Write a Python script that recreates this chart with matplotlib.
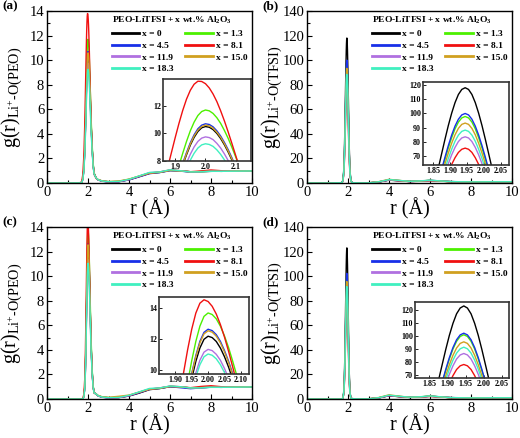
import matplotlib
matplotlib.use('Agg')
import matplotlib.pyplot as plt
from matplotlib.lines import Line2D
from matplotlib.ticker import MultipleLocator, FixedLocator, FormatStrFormatter

plt.rcParams['font.family'] = ['Liberation Serif', 'DejaVu Serif']
plt.rcParams['mathtext.fontset'] = 'custom'
plt.rcParams['mathtext.rm'] = 'Liberation Serif'
plt.rcParams['mathtext.it'] = 'Liberation Serif:italic'
plt.rcParams['mathtext.bf'] = 'Liberation Serif:bold'

# ---------------- data ----------------
labels = ['x = 0', 'x = 1.3', 'x = 4.5', 'x = 8.1', 'x = 11.9', 'x = 15.0', 'x = 18.3']
colors = ['#000000', '#4cf000', '#1830e8', '#f01010', '#b070e0', '#d0a020', '#40f0c0']

r_peo = [0, 1.0, 1.65, 1.7, 1.75, 1.8, 1.84, 1.87,
         1.9, 1.9125, 1.925, 1.9375, 1.95, 1.9625, 1.975, 1.9875, 2.0, 2.0125, 2.025,
         2.0375, 2.05, 2.0625, 2.075, 2.0875, 2.1, 2.1125, 2.125, 2.1375, 2.15,
         2.2, 2.25, 2.3, 2.4,
         2.5, 2.7, 3.0, 3.5, 4.0, 4.5, 5.0, 5.5, 6.0, 6.5, 7.0, 7.5, 8.0, 8.5, 9.0, 9.5, 10.0]

r_tfsi = [0, 1.0, 1.7, 1.745, 1.785, 1.805, 1.825, 1.845,
          1.855, 1.865, 1.875, 1.885, 1.895, 1.905, 1.915, 1.925, 1.935, 1.945,
          1.955, 1.965, 1.975, 1.985, 1.995, 2.005, 2.015, 2.025, 2.035,
          2.045, 2.065, 2.085, 2.105, 2.145, 2.2,
          2.3, 2.5, 3.0, 3.5, 4.0, 4.5, 5.0, 5.5, 6.0, 6.5, 7.0, 7.5, 8.0, 8.5, 9.0, 9.5, 10.0]

# (a) Li+-O(PEO)
a_x0 = [0, 0, .01, .07, .33, 1.14, 2.54, 4.12,
        6.04, 6.87, 7.69, 8.45, 9.15, 9.71, 10.14, 10.41, 10.5, 10.45, 10.28, 10.0, 9.63, 9.17, 8.64, 8.05, 7.42, 6.76, 6.10, 5.45, 4.81,
        2.91, 1.5, .76, .4,
        .25, .15, .10, .11, .26, .52, .78, .86, 1.02, 1.0, .92, .92, .95, .96, .97, .98, .98]
a_x13 = [0, 0, .01, .08, .36, 1.28, 2.83, 4.59,
         6.73, 7.65, 8.56, 9.42, 10.19, 10.82, 11.30, 11.59, 11.7, 11.64, 11.45, 11.14, 10.73, 10.21, 9.63, 8.97, 8.27, 7.53, 6.80, 6.07, 5.36,
         3.21, 1.63, .81, .4,
         .26, .16, .10, .13, .30, .56, .82, .88, 1.04, .98, .90, .93, .96, .95, .97, .97, .98]
a_x45 = [0, 0, .01, .07, .33, 1.17, 2.59, 4.19,
         6.15, 7.0, 7.83, 8.61, 9.32, 9.90, 10.34, 10.60, 10.7, 10.65, 10.48, 10.19, 9.81, 9.34, 8.81, 8.21, 7.56, 6.89, 6.22, 5.55, 4.90,
         2.96, 1.52, .77, .4,
         .24, .14, .09, .10, .25, .50, .76, .85, 1.0, .97, .88, .94, .97, .95, .96, .98, .97]
a_x81 = [0, 0, .03, .18, .74, 2.29, 4.66, 7.06,
         9.68, 10.72, 11.67, 12.49, 13.13, 13.57, 13.79, 13.77, 13.61, 13.30, 12.86, 12.31, 11.64, 10.90, 10.09, 9.24, 8.37, 7.50, 6.65, 5.83, 5.07,
         2.87, 1.4, .69, .37,
         .26, .16, .10, .12, .28, .55, .80, .90, 1.06, 1.0, .92, .98, 1.06, 1.0, .98, 1.0, 1.0]
a_x119 = [0, 0, .01, .07, .30, 1.06, 2.36, 3.82,
          5.61, 6.38, 7.14, 7.85, 8.49, 9.02, 9.42, 9.66, 9.75, 9.70, 9.55, 9.28, 8.94, 8.51, 8.02, 7.48, 6.89, 6.28, 5.66, 5.06, 4.47,
          2.73, 1.41, .73, .4,
          .25, .15, .10, .12, .28, .56, .84, .90, 1.05, .99, .90, .92, .96, .96, .98, .98, .99]
a_x150 = [0, 0, .01, .07, .33, 1.16, 2.57, 4.16,
          6.10, 6.93, 7.76, 8.53, 9.23, 9.81, 10.24, 10.50, 10.6, 10.55, 10.38, 10.09, 9.72, 9.25, 8.72, 8.13, 7.49, 6.83, 6.16, 5.50, 4.85,
          2.94, 1.51, .77, .4,
          .27, .17, .12, .16, .32, .56, .80, .87, 1.02, .98, .91, .93, .96, .95, .97, .98, .98]
a_x183 = [0, 0, .01, .06, .29, 1.01, 2.24, 3.63,
          5.32, 6.05, 6.77, 7.45, 8.06, 8.56, 8.94, 9.17, 9.25, 9.20, 9.06, 8.81, 8.48, 8.08, 7.61, 7.09, 6.54, 5.96, 5.37, 4.80, 4.24,
          2.60, 1.35, .71, .4,
          .26, .16, .11, .13, .30, .58, .86, .90, 1.08, 1.0, .90, .91, .95, .95, .96, .97, .98]

# (b) Li+-O(TFSI)
b_x0 = [0, 0, .24, 2.0, 8.6, 15.9, 27.1, 42.5,
        51.6, 61.4, 71.6, 81.8, 91.5, 100.2, 107.6, 113.3, 116.8, 118, 116.8, 113.3, 107.6, 100.2, 91.5, 81.8, 71.6, 61.4, 51.6,
        42.5, 27.1, 15.9, 8.6, 2.0, .3,
        .2, .1, .1, .8, 2.3, 1.8, 1.2, 1.5, 2.0, 1.6, 1.1, 1.0, .9, .9, 1.0, 1.0, 1.0]
b_x13 = [0, 0, .2, 1.7, 7.1, 13.2, 22.5, 35.2,
         42.8, 50.9, 59.4, 67.8, 75.9, 83.1, 89.3, 94, 96.9, 97.9, 96.9, 94, 89.3, 83.1, 75.9, 67.8, 59.4, 50.9, 42.8,
         35.2, 22.5, 13.2, 7.1, 1.7, .3,
         .2, .1, .1, .9, 2.6, 2.0, 1.3, 1.6, 2.1, 1.5, 1.1, 1.0, .9, .9, 1.0, 1.0, 1.0]
b_x45 = [0, 0, .2, 1.7, 7.3, 13.5, 23, 36,
         43.7, 52, 60.7, 69.3, 77.5, 84.9, 91.2, 96, 99, 100, 99, 96, 91.2, 84.9, 77.5, 69.3, 60.7, 52, 43.7,
         36, 23, 13.5, 7.3, 1.7, .3,
         .2, .1, .1, .8, 2.4, 1.9, 1.2, 1.5, 2.2, 1.7, 1.1, 1.0, .9, .9, 1.0, 1.0, 1.0]
b_x81 = [0, 0, .2, 1.3, 5.5, 10.2, 17.4, 27.3,
         33.1, 39.4, 46, 52.5, 58.7, 64.4, 69.1, 72.8, 75, 75.8, 75, 72.8, 69.1, 64.4, 58.7, 52.5, 46, 39.4, 33.1,
         27.3, 17.4, 10.2, 5.5, 1.3, .3,
         .2, .1, .1, .9, 2.5, 1.8, 1.2, 1.4, 1.9, 1.5, 1.1, 1.0, .9, 1.0, 1.0, 1.0, 1.0]
b_x119 = [0, 0, .2, 1.4, 6.1, 11.3, 19.3, 30.1,
          36.6, 43.5, 50.8, 58, 64.9, 71.1, 76.3, 80.4, 82.9, 83.7, 82.9, 80.4, 76.3, 71.1, 64.9, 58, 50.8, 43.5, 36.6,
          30.1, 19.3, 11.3, 6.1, 1.4, .3,
          .2, .1, .1, .9, 2.6, 2.0, 1.3, 1.5, 2.0, 1.6, 1.2, 1.0, .9, .9, 1.0, 1.0, 1.0]
b_x150 = [0, 0, .2, 1.6, 6.8, 12.6, 21.5, 33.6,
          40.8, 48.5, 56.6, 64.7, 72.3, 79.2, 85.1, 89.6, 92.4, 93.3, 92.4, 89.6, 85.1, 79.2, 72.3, 64.7, 56.6, 48.5, 40.8,
          33.6, 21.5, 12.6, 6.8, 1.6, .3,
          .2, .1, .1, 1.1, 3.0, 2.1, 1.3, 1.6, 2.2, 1.6, 1.1, 1.0, .9, .9, 1.0, 1.0, 1.0]
b_x183 = [0, 0, .2, 1.5, 6.5, 11.9, 20.3, 31.8,
          38.6, 46, 53.7, 61.3, 68.5, 75, 80.6, 84.9, 87.5, 88.4, 87.5, 84.9, 80.6, 75, 68.5, 61.3, 53.7, 46, 38.6,
          31.8, 20.3, 11.9, 6.5, 1.5, .3,
          .2, .1, .1, 1.0, 2.8, 2.1, 1.4, 1.7, 2.3, 1.7, 1.2, 1.0, .9, .9, 1.0, 1.0, 1.0]

# (c) Li+-O(PEO)
c_x0 = [0, 0, 0, 0, .02, .21, .89, 2.18,
        4.39, 5.59, 6.87, 8.19, 9.46, 10.57, 11.44, 12.0, 12.2, 12.11, 11.86, 11.44, 10.88, 10.21, 9.44, 8.61, 7.75, 6.87, 6.0, 5.17, 4.39,
        2.28, 1.01, .51, .4,
        .25, .15, .10, .12, .24, .48, .76, .85, 1.0, .98, .90, .93, .96, .96, .97, .98, .98]
c_x13 = [0, 0, 0, 0, .02, .23, 1.0, 2.45,
         4.93, 6.27, 7.71, 9.19, 10.62, 11.86, 12.85, 13.48, 13.7, 13.6, 13.32, 12.85, 12.22, 11.47, 10.6, 9.67, 8.7, 7.71, 6.74, 5.81, 4.93,
         2.52, 1.09, .53, .4,
         .26, .16, .11, .13, .28, .55, .80, .88, 1.03, .98, .90, .93, .96, .95, .97, .97, .98]
c_x45 = [0, 0, 0, 0, .02, .22, .92, 2.26,
         4.55, 5.79, 7.12, 8.49, 9.8, 10.95, 11.87, 12.45, 12.65, 12.56, 12.3, 11.87, 11.28, 10.59, 9.79, 8.93, 8.03, 7.12, 6.22, 5.36, 4.55,
         2.35, 1.03, .52, .4,
         .24, .14, .09, .11, .25, .50, .78, .86, 1.0, .92, .84, .90, .96, .95, .96, .98, .97]
c_x81 = [0, 0, 0, 0, .05, .41, 1.61, 3.6,
         6.72, 8.26, 9.83, 11.33, 12.65, 13.69, 14.33, 14.55, 14.44, 14.13, 13.63, 12.96, 12.15, 11.23, 10.23, 9.2, 8.15, 7.11, 6.12, 5.2, 4.34,
         2.15, .93, .47, .4,
         .26, .16, .10, .12, .27, .54, .80, .90, 1.04, 1.0, .92, 1.02, 1.08, 1.0, .98, 1.0, 1.0]
c_x119 = [0, 0, 0, 0, .02, .19, .83, 2.03,
          4.09, 5.2, 6.39, 7.62, 8.8, 9.83, 10.65, 11.17, 11.35, 11.27, 11.03, 10.65, 10.12, 9.5, 8.78, 8.01, 7.21, 6.39, 5.58, 4.81, 4.09,
          2.14, .96, .49, .4,
          .25, .15, .10, .12, .28, .56, .82, .90, 1.04, .99, .90, .92, .96, .96, .98, .98, .99]
c_x150 = [0, 0, 0, 0, .02, .21, .92, 2.25,
          4.52, 5.75, 7.07, 8.42, 9.73, 10.87, 11.77, 12.35, 12.55, 12.46, 12.2, 11.77, 11.19, 10.5, 9.71, 8.86, 7.97, 7.07, 6.17, 5.32, 4.52,
          2.33, 1.03, .51, .4,
          .28, .18, .14, .22, .32, .56, .80, .87, 1.02, .98, .91, .93, .96, .95, .97, .98, .98]
c_x183 = [0, 0, 0, 0, .02, .19, .81, 1.98,
          3.98, 5.06, 6.22, 7.41, 8.56, 9.57, 10.36, 10.87, 11.05, 10.97, 10.74, 10.36, 9.86, 9.25, 8.55, 7.8, 7.02, 6.22, 5.44, 4.69, 3.98,
          2.09, .94, .49, .4,
          .26, .16, .11, .13, .30, .58, .86, .90, 1.06, 1.0, .90, .91, .95, .95, .96, .97, .98]

# (d) Li+-O(TFSI)
d_x0 = [0, 0, 0, .7, 4.8, 10.3, 19.9, 34.7,
        44.2, 54.7, 66.2, 78, 89.7, 100.5, 109.7, 117, 121.4, 123, 121.4, 117, 109.7, 100.5, 89.7, 78, 66.2, 54.7, 44.2,
        34.7, 19.9, 10.3, 4.8, .7, .3,
        .2, .1, .1, .9, 2.6, 1.9, 1.3, 1.6, 2.2, 1.7, 1.1, 1.0, .9, .9, 1.0, 1.0, 1.0]
d_x13 = [0, 0, 0, .6, 3.9, 8.5, 16.4, 28.5,
         36.3, 44.9, 54.3, 64, 73.6, 82.5, 90.1, 96, 99.7, 101, 99.7, 96, 90.1, 82.5, 73.6, 64, 54.3, 44.9, 36.3,
         28.5, 16.4, 8.5, 3.9, .6, .3,
         .2, .1, .1, 1.0, 2.9, 2.1, 1.4, 1.7, 2.4, 1.7, 1.1, 1.0, .9, .9, 1.0, 1.0, 1.0]
d_x45 = [0, 0, 0, .6, 4.0, 8.6, 16.6, 28.8,
         36.7, 45.5, 55, 64.8, 74.5, 83.5, 91.2, 97.2, 100.9, 102.2, 100.9, 97.2, 91.2, 83.5, 74.5, 64.8, 55, 45.5, 36.7,
         28.8, 16.6, 8.6, 4.0, .6, .3,
         .2, .1, .1, .9, 2.7, 2.0, 1.3, 1.6, 2.3, 1.8, 1.1, 1.0, .9, .9, 1.0, 1.0, 1.0]
d_x81 = [0, 0, 0, .5, 3.1, 6.6, 12.7, 22.1,
         28.1, 34.8, 42.1, 49.6, 57.1, 64, 69.8, 74.5, 77.3, 78.3, 77.3, 74.5, 69.8, 64, 57.1, 49.6, 42.1, 34.8, 28.1,
         22.1, 12.7, 6.6, 3.1, .5, .3,
         .2, .1, .1, 1.0, 2.8, 1.9, 1.3, 1.5, 2.1, 1.6, 1.1, 1.0, .9, 1.0, 1.0, 1.0, 1.0]
d_x119 = [0, 0, 0, .5, 3.4, 7.3, 14, 24.4,
          31.1, 38.6, 46.6, 55, 63.2, 70.8, 77.3, 82.5, 85.6, 86.7, 85.6, 82.5, 77.3, 70.8, 63.2, 55, 46.6, 38.6, 31.1,
          24.4, 14, 7.3, 3.4, .5, .3,
          .2, .1, .1, 1.0, 2.9, 2.1, 1.4, 1.6, 2.2, 1.7, 1.2, 1.0, .9, .9, 1.0, 1.0, 1.0]
d_x150 = [0, 0, 0, .6, 3.7, 8.0, 15.5, 27,
          34.3, 42.5, 51.4, 60.6, 69.7, 78.1, 85.3, 90.9, 94.4, 95.6, 94.4, 90.9, 85.3, 78.1, 69.7, 60.6, 51.4, 42.5, 34.3,
          27, 15.5, 8.0, 3.7, .6, .3,
          .2, .1, .1, 1.2, 3.4, 2.3, 1.4, 1.7, 2.4, 1.7, 1.1, 1.0, .9, .9, 1.0, 1.0, 1.0]
d_x183 = [0, 0, 0, .5, 3.6, 7.7, 14.8, 25.8,
          32.8, 40.7, 49.2, 58, 66.7, 74.8, 81.6, 87, 90.3, 91.5, 90.3, 87, 81.6, 74.8, 66.7, 58, 49.2, 40.7, 32.8,
          25.8, 14.8, 7.7, 3.6, .5, .3,
          .2, .1, .1, 1.1, 3.1, 2.2, 1.5, 1.8, 2.5, 1.8, 1.2, 1.0, .9, .9, 1.0, 1.0, 1.0]

legend_title = r'PEO-LiTFSI + x wt.% Al$_{\mathbf{2}}$O$_{\mathbf{3}}$'
ylab_peo = r'$\mathrm{g(r)}_{\mathrm{Li^{+}}\text{-}\mathrm{O(PEO)}}$'
ylab_tfsi = r'$\mathrm{g(r)}_{\mathrm{Li^{+}}\text{-}\mathrm{O(TFSI)}}$'

panels = [
    dict(tag='(a)', r=r_peo, ys=[a_x0, a_x13, a_x45, a_x81, a_x119, a_x150, a_x183], ymax=14, ystep=2,
         ylabel=ylab_peo, main=[47, 11, 252, 183], ins=[163, 79, 251, 161],
         ixlim=(1.86, 2.15), iylim=(8, 13.95), ixt=[1.9, 2.0, 2.1], iyt=[8, 10, 12], ifmt='%.1f'),
    dict(tag='(b)', r=r_tfsi, ys=[b_x0, b_x13, b_x45, b_x81, b_x119, b_x150, b_x183], ymax=140, ystep=20,
         ylabel=ylab_tfsi, main=[307, 11, 512, 183], ins=[423, 82, 509, 165],
         ixlim=(1.82, 2.075), iylim=(64, 122), ixt=[1.85, 1.90, 1.95, 2.00, 2.05],
         iyt=[70, 80, 90, 100, 110, 120], ifmt='%.2f'),
    dict(tag='(c)', r=r_peo, ys=[c_x0, c_x13, c_x45, c_x81, c_x119, c_x150, c_x183], ymax=14, ystep=2,
         ylabel=ylab_peo, main=[47, 227, 252, 399], ins=[159, 297, 249, 374],
         ixlim=(1.85, 2.125), iylim=(9.76, 14.73), ixt=[1.90, 1.95, 2.00, 2.05, 2.10], iyt=[10, 12, 14],
         ifmt='%.2f'),
    dict(tag='(d)', r=r_tfsi, ys=[d_x0, d_x13, d_x45, d_x81, d_x119, d_x150, d_x183], ymax=140, ystep=20,
         ylabel=ylab_tfsi, main=[307, 227, 512, 399], ins=[415, 302, 509, 378],
         ixlim=(1.81, 2.07), iylim=(68, 126), ixt=[1.85, 1.90, 1.95, 2.00, 2.05],
         iyt=[70, 80, 90, 100, 110, 120], ifmt='%.2f'),
]

W, H = 520, 438
fig = plt.figure(figsize=(W / 100, H / 100), dpi=100)


def box(px):
    x0, y0, x1, y1 = px
    return [x0 / W, 1 - y1 / H, (x1 - x0) / W, (y1 - y0) / H]


legend_order = [0, 2, 4, 6, 1, 3, 5]

for p in panels:
    ax = fig.add_axes(box(p['main']))
    for y, c in zip(p['ys'], colors):
        ax.plot(p['r'], y, color=c, lw=1.0)
    ax.set_xlim(0, 10)
    ax.set_ylim(0, p['ymax'])
    ax.xaxis.set_major_locator(MultipleLocator(2))
    ax.xaxis.set_minor_locator(MultipleLocator(1))
    ax.yaxis.set_major_locator(MultipleLocator(p['ystep']))
    ax.yaxis.set_minor_locator(MultipleLocator(p['ystep'] / 2))
    ax.tick_params(which='both', direction='in', labelsize=10.5, pad=2, width=0.8)
    ax.tick_params(which='major', length=3.5)
    ax.tick_params(which='minor', length=2)
    for s in ax.spines.values():
        s.set_linewidth(1.0)
    ax.set_xlabel('r (Å)', fontsize=14.5)
    ax.xaxis.set_label_coords(0.5, -0.148)
    ax.xaxis.label.set_va('center')
    ax.set_ylabel(p['ylabel'], fontsize=14.5)
    ax.yaxis.set_label_coords(-0.172, 0.5)
    ax.yaxis.label.set_va('center')

    handles = [Line2D([], [], color=colors[i], lw=2.0) for i in legend_order]
    labs = [labels[i] for i in legend_order]
    leg = ax.legend(handles, labs, ncol=2, loc='upper right', frameon=False,
                    title=legend_title,
                    prop={'weight': 'bold', 'size': 6.8},
                    title_fontproperties={'weight': 'bold', 'size': 6.8},
                    handlelength=2.9, handletextpad=0.35, columnspacing=1.2,
                    labelspacing=0.33, borderaxespad=0.15, borderpad=0.3)
    leg._legend_box.align = 'left'

    x0 = p['main'][0]
    fig.text((x0 - 45) / W, 1 - (p['main'][1] - 5) / H, p['tag'], fontsize=9.5, weight='bold',
             ha='left', va='center')

    ia = fig.add_axes(box(p['ins']))
    for y, c in zip(p['ys'], colors):
        ia.plot(p['r'], y, color=c, lw=1.0)
    ia.set_xlim(*p['ixlim'])
    ia.set_ylim(*p['iylim'])
    ia.xaxis.set_major_locator(FixedLocator(p['ixt']))
    ia.yaxis.set_major_locator(FixedLocator(p['iyt']))
    ia.xaxis.set_major_formatter(FormatStrFormatter(p['ifmt']))
    ia.yaxis.set_major_formatter(FormatStrFormatter('%d'))
    ia.tick_params(direction='in', length=2, width=0.6, labelsize=5.8, pad=1.5)
    for t in ia.get_xticklabels() + ia.get_yticklabels():
        t.set_fontweight('bold')
    for s in ia.spines.values():
        s.set_linewidth(1.2)
        s.set_color('#333333')

fig.savefig('out.png', dpi=100)
